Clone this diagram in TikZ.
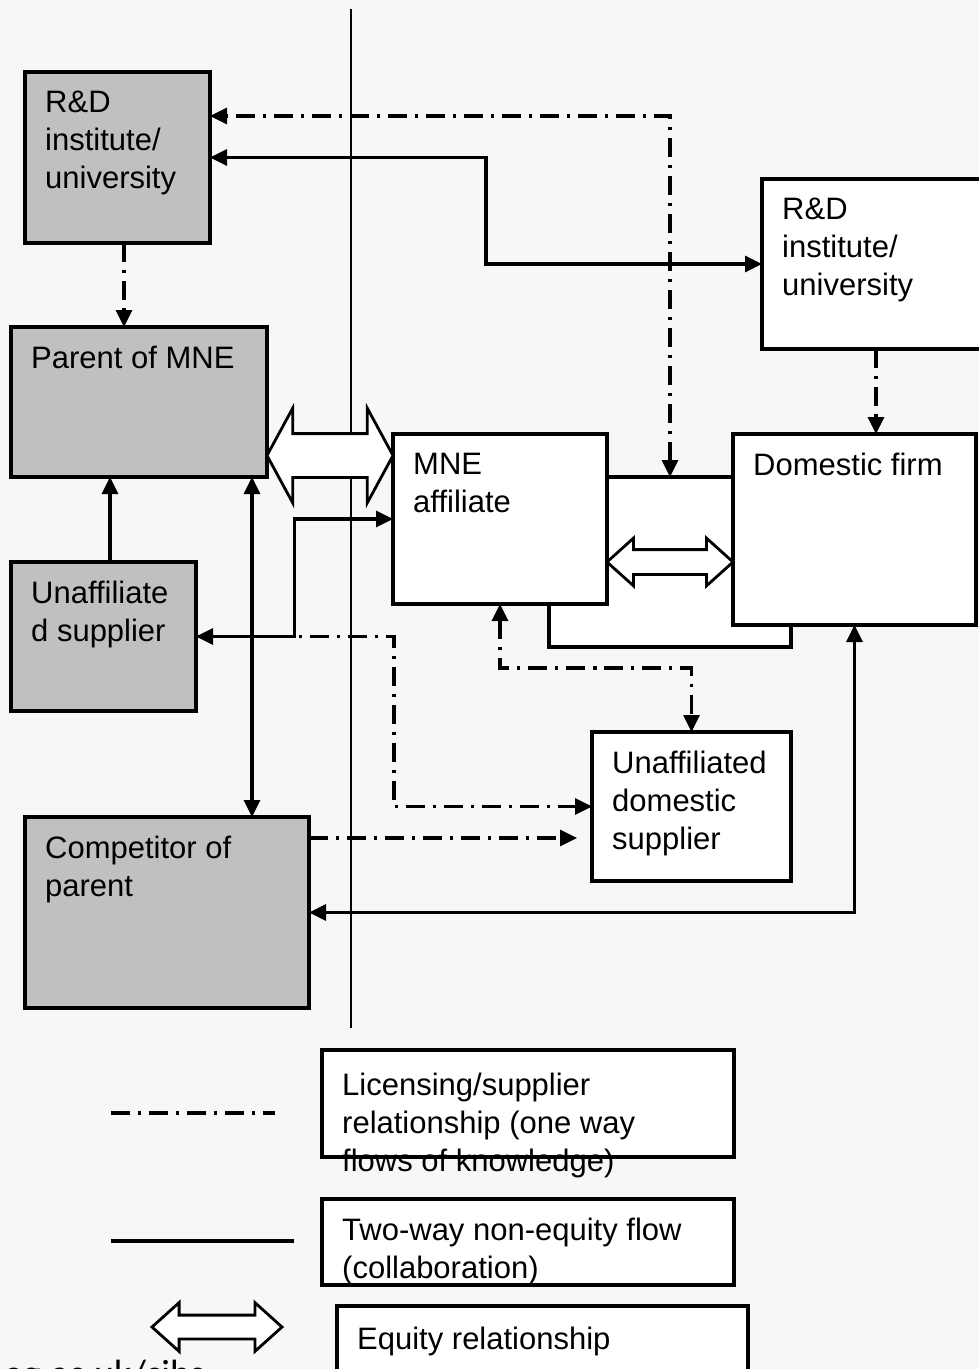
\documentclass[tikz,border=0pt]{standalone}
\usepackage{fontspec}
\setmainfont{Liberation Sans}
\newfontfamily\sitefont{Carlito}
\usetikzlibrary{arrows.meta,shapes.arrows,calc}
\definecolor{pagegrey}{RGB}{247,247,247}
\definecolor{homegrey}{RGB}{192,192,192}
\tikzset{>={Triangle[length=17pt,width=16pt]}}
\tikzstyle{line} = [draw, line width=3.2pt, ->]
\tikzstyle{oneway} = [line, dash pattern=on 19pt off 8pt on 3pt off 8pt]
\tikzstyle{home} = [rectangle, draw, line width=3.2pt, fill=homegrey, anchor=north west, inner sep=0pt, outer sep=0pt]
\tikzstyle{host} = [home, fill=white]
\tikzstyle{label_txt} = [anchor=north west, inner sep=0pt, align=left, font=\fontsize{31}{38}\selectfont, xshift=20pt, yshift=-19pt]
\tikzstyle{equity} = [double arrow, draw, fill=white, line width=2.8pt, inner xsep=0pt, outer sep=0pt]

\begin{document}
\begin{tikzpicture}[x=1pt, y=-1pt]
		\fill[pagegrey] (0,0) rectangle (979,1369);
		\useasboundingbox (0,0) rectangle (979,1369);
		
		% border between home and host country
		\draw[line width=2.4pt] (351,9) -- (351,1028);
		
		% home country
		\node[home, minimum width=185pt, minimum height=171pt] (rd_home) at (25,72) {};
		\node[label_txt] at (rd_home.north west) {R\&D\\institute/\\university};
		\node[home, minimum width=256pt, minimum height=150pt] (parent) at (11,327) {};
		\node[label_txt] at (parent.north west) {Parent of MNE};
		\node[home, minimum width=185pt, minimum height=149pt] (supplier) at (11,562) {};
		\node[label_txt] at (supplier.north west) {Unaffiliate\\d supplier};
		\node[home, minimum width=284pt, minimum height=191pt] (competitor) at (25,817) {};
		\node[label_txt] at (competitor.north west) {Competitor of\\parent};
		
		% host country
		\node[host, minimum width=242pt, minimum height=170pt] (tie) at (549,477) {};
		\node[host, minimum width=214pt, minimum height=170pt] (mne) at (393,434) {};
		\node[label_txt] at (mne.north west) {MNE\\affiliate};
		\node[host, minimum width=243pt, minimum height=191pt] (domestic) at (733,434) {};
		\node[label_txt] at (domestic.north west) {Domestic firm};
		\node[host, minimum width=228pt, minimum height=170pt] (rd_host) at (762,179) {};
		\node[label_txt] at (rd_host.north west) {R\&D\\institute/\\university};
		\node[host, minimum width=199pt, minimum height=149pt] (uds) at (592,732) {};
		\node[label_txt] at (uds.north west) {Unaffiliated\\domestic\\supplier};
		
		% one way flows
		\path [oneway] ([xshift=6.5pt]rd_home.south) to ([xshift=6.5pt]rd_home.south |- parent.north);
		\path [oneway, <->] (tie.north) |- ([yshift=41.5pt]rd_home.east);
		\path [oneway] (rd_host.south) to (rd_host.south |- domestic.north);
		\path [oneway] (supplier.east) -| ($(supplier.east)!.5!(uds.west)$) |- (uds.west);
		\path [oneway, shorten >=15pt] ([yshift=-21pt]competitor.north east) to ([yshift=-21pt]competitor.north east -| uds.west);
		\path [oneway, <->] (mne.south) |- ($(mne.south)!.5!(uds.north)$) -| (uds.north);
		
		% two way flows
		\path [line, <->] (rd_home.east) -| ($(rd_home.east)!.5!(rd_host.west)$) |- (rd_host.west);
		\path [line] ([xshift=6.5pt]supplier.north) to ([xshift=6.5pt]supplier.north |- parent.south);
		\path [line, <->] ([xshift=-15pt]parent.south east) to ([xshift=-15pt]parent.south east |- competitor.north);
		\path [line, <->] (supplier.east) -| ($(supplier.east)!.5!(mne.west)$) |- (mne.west);
		\path [line, <->] (domestic.south) |- (competitor.east);
		
		% equity
		\node[equity, minimum height=126pt, inner ysep=20.5pt, double arrow head extend=25.5pt, double arrow tip angle=123] (eq_parent) at ($(parent.east)!.5!(mne.west)$) [yshift=5pt] {};
		\node[equity, minimum height=126pt, inner ysep=11pt, double arrow head extend=11.5pt, double arrow tip angle=84] (eq_domestic) at ($(mne.east)!.5!(domestic.west)$) [yshift=-37.75pt] {};
		
		% legend
		\coordinate (ow_a) at (111,1113);
		\coordinate (ow_b) at (275,1113);
		\path [oneway, -] (ow_a) to (ow_b);
		\node[host, minimum width=412pt, minimum height=107pt] (leg_one) at (322,1050) {};
		\node[label_txt, yshift=-4pt] at (leg_one.north west) {Licensing/supplier\\relationship (one way\\flows of knowledge)};
		
		\coordinate (tw_a) at (111,1241);
		\coordinate (tw_b) at (294,1241);
		\path [line, -] (tw_a) to (tw_b);
		\node[host, minimum width=412pt, minimum height=86pt] (leg_two) at (322,1199) {};
		\node[label_txt] at (leg_two.north west) {Two-way non-equity flow\\(collaboration)};
		
		\node[equity, minimum height=130pt, inner ysep=10.5pt, double arrow head extend=12.5pt, double arrow tip angle=84] (eq_key) at (217,1327) {};
		\node[host, minimum width=411pt, minimum height=80pt] (leg_eq) at (337,1306) {};
		\node[label_txt, yshift=-2pt] at (leg_eq.north west) {Equity relationship};
		
		\node[anchor=base east, inner sep=0pt, font=\sitefont\fontsize{38}{44}\selectfont] (site) at (205,1386) {eg.ac.uk/cibs};
\end{tikzpicture}
\end{document}
